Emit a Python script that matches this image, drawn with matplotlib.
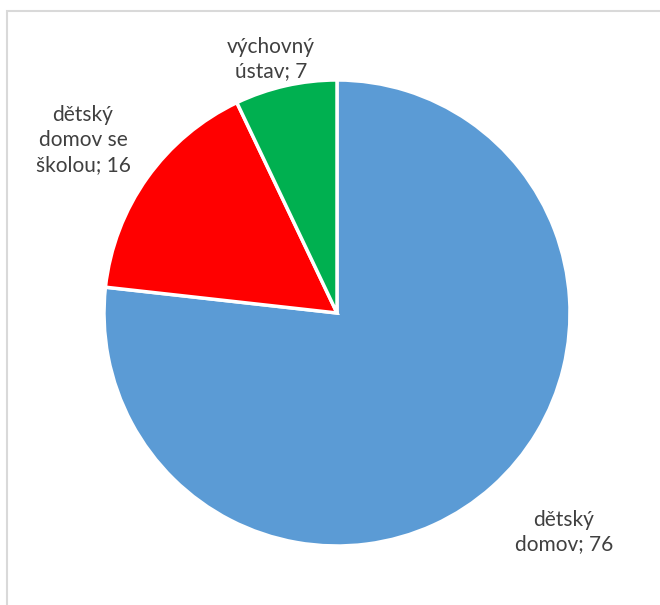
import matplotlib.pyplot as plt
from matplotlib.patches import Rectangle

# data
labels = ['dětský\ndomov; 76', 'dětský\ndomov se\nškolou; 16', 'výchovný\nústav; 7']
values = [76, 16, 7]
colors = ['#5B9BD5', '#FF0000', '#00B050']

W, H = 660, 605

fig = plt.figure(figsize=(6.6, 6.05), dpi=100)
ax = fig.add_axes([0, 0, 1, 1])

ax.pie(values, colors=colors, startangle=90, counterclock=False,
       center=(337, H - 313), radius=233,
       wedgeprops=dict(edgecolor='white', linewidth=2.5))

# pie() si meni limity, proto az potom
ax.set_xlim(0, W)
ax.set_ylim(0, H)
ax.set_aspect('equal')
ax.axis('off')

# ramecek grafu (vpravo a dole oriznuty)
fig.patches.append(Rectangle((7 / W, -0.1), 1.2, 1 - 11 / H + 0.1,
                             transform=fig.transFigure, fill=False,
                             edgecolor='#D9D9D9', linewidth=1.5))

# popisky
label_pos = [(564, 532), (83, 140), (271, 59)]
for (x, y), txt in zip(label_pos, labels):
    ax.text(x, H - y, txt, ha='center', va='center', fontsize=15,
            family='Lato', color='#404040', linespacing=1.3)

fig.savefig('out.png', dpi=100)
